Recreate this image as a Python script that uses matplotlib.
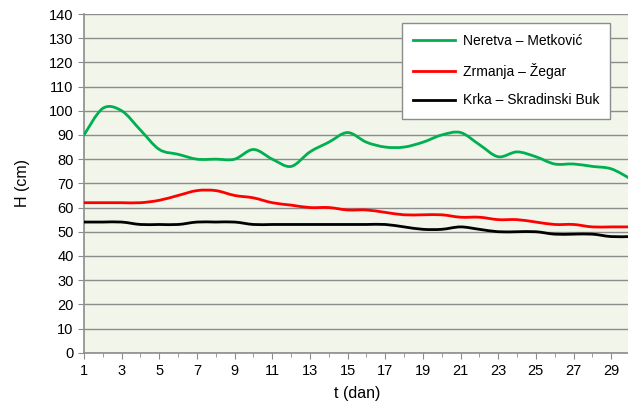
import numpy as np
import matplotlib
matplotlib.use("Agg")
import matplotlib.pyplot as plt
from matplotlib.path import Path
from matplotlib.patches import PathPatch

plt.rcParams['font.family'] = ['Liberation Sans', 'DejaVu Sans']

days = list(range(1, 31))
neretva = [90, 101, 100, 92, 84, 82, 80, 80, 80, 84, 80, 77, 83, 87, 91,
           87, 85, 85, 87, 90, 91, 86, 81, 83, 81, 78, 78, 77, 76, 72]
zrmanja = [62, 62, 62, 62, 63, 65, 67, 67, 65, 64, 62, 61, 60, 60, 59,
           59, 58, 57, 57, 57, 56, 56, 55, 55, 54, 53, 53, 52, 52, 52]
krka = [54, 54, 54, 53, 53, 53, 54, 54, 54, 53, 53, 53, 53, 53, 53,
        53, 53, 52, 51, 51, 52, 51, 50, 50, 50, 49, 49, 49, 48, 48]
labels = ['Neretva – Metković', 'Zrmanja – Žegar', 'Krka – Skradinski Buk']
colors = ['#00b050', '#ff0000', '#000000']


def smooth_path(x, y):
    # excel-like smoothed line: bezier segments through every point
    p = np.column_stack([x, y]).astype(float)
    n = len(p)
    verts = [p[0]]
    codes = [Path.MOVETO]
    for i in range(n - 1):
        p0 = p[i - 1] if i > 0 else p[i]
        p3 = p[i + 2] if i + 2 < n else p[i + 1]
        c1 = p[i] + (p[i + 1] - p0) / 6
        c2 = p[i + 1] - (p3 - p[i]) / 6
        verts += [c1, c2, p[i + 1]]
        codes += [Path.CURVE4] * 3
    return Path(verts, codes)


fig = plt.figure(figsize=(6.28, 4.08), dpi=100)
ax = fig.add_axes([84 / 628, 1 - 352.7 / 408, 546 / 628, 338.7 / 408])
ax.set_facecolor('#f1f5ea')

for series, lab, col in zip([neretva, zrmanja, krka], labels, colors):
    ax.add_patch(PathPatch(smooth_path(days, series), facecolor='none',
                           edgecolor=col, lw=2, capstyle='round', zorder=3))
    ax.plot([], [], color=col, lw=2, label=lab)

ax.set_xlim(1, 30)
ax.set_ylim(0, 140)
ax.set_yticks(range(0, 141, 10))
ax.set_xticks(range(1, 30, 2))
ax.set_xticks(range(1, 31), minor=True)
ax.yaxis.grid(True, color='#8c8c8c', lw=1)
ax.set_axisbelow(True)

for s in ['right', 'top']:
    ax.spines[s].set_visible(False)
for s in ['left', 'bottom']:
    ax.spines[s].set_color('#8c8c8c')
    ax.spines[s].set_linewidth(1.2)
ax.tick_params(axis='both', which='both', color='#8c8c8c', labelsize=10.5,
               length=4, direction='out')
ax.tick_params(axis='x', which='minor', length=3)
ax.tick_params(axis='x', pad=4)

ax.set_xlabel('t (dan)', fontsize=11.5, labelpad=6)
ax.set_ylabel('H (cm)', fontsize=11.5, labelpad=14)

leg = ax.legend(loc='upper left', bbox_to_anchor=(0.582, 0.973), fontsize=10,
                frameon=True, fancybox=False, edgecolor='#8c8c8c',
                framealpha=1, handlelength=3.0, labelspacing=1.05,
                borderpad=0.8, handletextpad=0.6, borderaxespad=0)
leg.get_frame().set_linewidth(1)

fig.savefig('out.png', dpi=100)
